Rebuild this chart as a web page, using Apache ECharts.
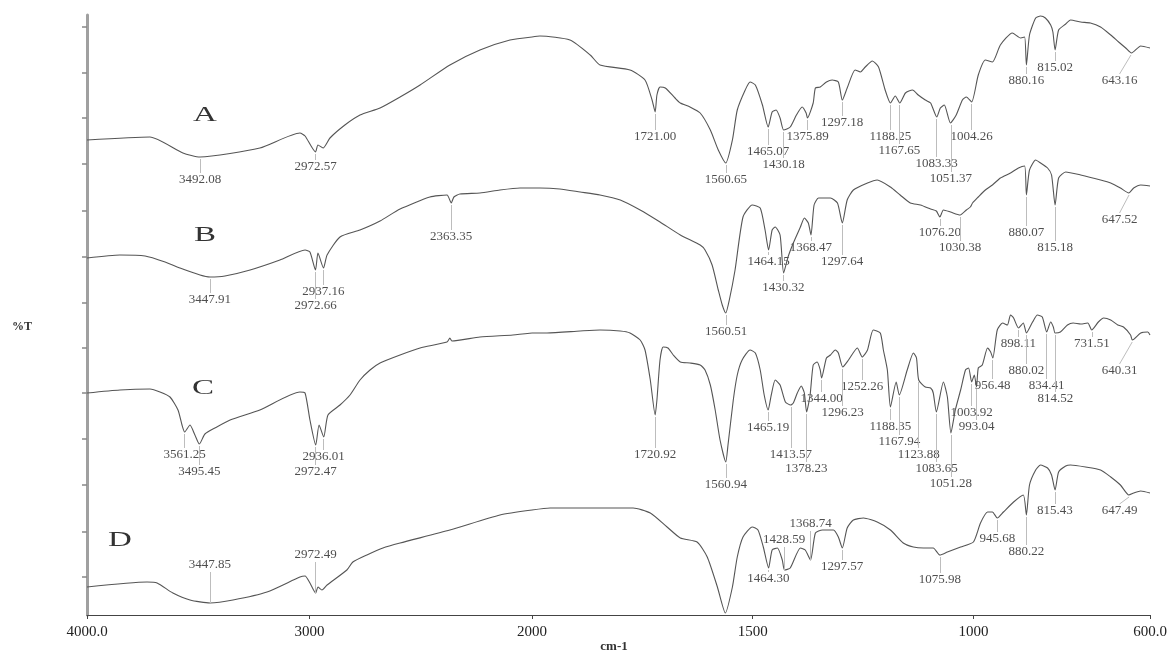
<!DOCTYPE html>
<html><head><meta charset="utf-8">
<script src="https://cdn.jsdelivr.net/npm/echarts@6/dist/echarts.min.js"></script>
<style>html,body{margin:0;padding:0;background:#fff}#chart{width:1171px;height:654px}</style>
</head><body><div id="chart"></div>
<script>
// ---- data: [wavenumber cm-1, %T (arbitrary offset units)] ----
const traceA = [[4000,475],[3717,478],[3569,462],[3492,458],[3223,467],[3043,482],[3020,479],[2973,463],[2962,470],[2939,467],[2908,477],[2841,490],[2773,500],[2683,507],[2593,518],[2503,530],[2369,550],[2234,565],[2099,575],[2000,578],[1982,579],[1914,575],[1868,560],[1846,550],[1778,545],[1744,535],[1728,515],[1721,503],[1717,520],[1710,528],[1698,527],[1676,517],[1664,512],[1642,508],[1619,502],[1596,485],[1578,465],[1561,452],[1546,475],[1535,505],[1517,525],[1506,533],[1494,530],[1478,510],[1465,488],[1456,503],[1447,505],[1438,497],[1430,485],[1415,488],[1401,500],[1388,508],[1379,502],[1376,497],[1363,512],[1358,527],[1347,528],[1333,533],[1320,535],[1306,533],[1297,515],[1286,527],[1268,545],[1256,543],[1245,548],[1229,554],[1215,548],[1200,525],[1188,512],[1177,519],[1167,512],[1154,522],[1138,525],[1125,520],[1109,515],[1097,512],[1083,498],[1075,507],[1066,510],[1052,492],[1039,500],[1025,515],[1016,518],[1004,513],[989,540],[973,555],[957,553],[939,570],[912,582],[893,577],[884,578],[880,550],[873,580],[859,597],[848,599],[837,597],[825,590],[820,583],[815,565],[807,585],[791,591],[780,595],[757,593],[735,592],[712,588],[689,580],[671,573],[655,567],[642,562],[621,569],[600,567]];
const traceB = [[4000,357],[3852,360],[3739,359],[3649,353],[3582,347],[3492,340],[3447,338],[3380,339],[3267,345],[3133,355],[3020,365],[2998,363],[2973,345],[2962,362],[2937,347],[2921,360],[2863,378],[2773,385],[2683,394],[2593,406],[2459,418],[2382,420],[2363,412],[2351,418],[2324,421],[2234,422],[2144,425],[2054,427],[2000,427],[1982,427],[1937,426],[1891,423],[1846,420],[1800,415],[1755,405],[1710,393],[1664,380],[1619,370],[1608,365],[1592,350],[1578,325],[1569,310],[1561,302],[1553,315],[1540,345],[1522,398],[1501,410],[1483,407],[1472,385],[1464,365],[1456,385],[1449,388],[1438,380],[1430,342],[1420,358],[1408,372],[1392,388],[1383,397],[1374,392],[1368,380],[1361,410],[1351,417],[1324,417],[1308,412],[1297,392],[1286,415],[1272,425],[1240,432],[1218,435],[1188,428],[1166,420],[1143,412],[1120,410],[1097,406],[1084,404],[1076,398],[1068,405],[1052,403],[1030,400],[1016,405],[1007,408],[1002,412],[989,418],[973,425],[957,430],[939,437],[916,442],[898,447],[884,449],[880,420],[873,445],[859,455],[848,452],[832,447],[823,440],[815,410],[807,437],[791,443],[757,440],[712,435],[689,432],[667,427],[648,422],[637,427],[621,430],[600,429]];
const traceC = [[4000,222],[3852,225],[3717,226],[3672,223],[3627,218],[3591,205],[3573,190],[3561,183],[3537,190],[3515,180],[3495,171],[3470,181],[3425,187],[3357,195],[3223,205],[3043,223],[3020,222],[2998,195],[2972,170],[2957,190],[2936,178],[2917,200],[2863,210],[2818,220],[2773,235],[2728,245],[2683,252],[2593,260],[2503,267],[2382,273],[2369,277],[2360,274],[2234,278],[2086,280],[2000,282],[1966,282],[1891,284],[1846,285],[1800,284],[1778,282],[1755,275],[1744,265],[1732,235],[1721,200],[1717,215],[1710,255],[1703,268],[1692,267],[1680,260],[1664,253],[1642,252],[1619,250],[1608,245],[1596,230],[1585,205],[1574,175],[1561,153],[1556,170],[1544,215],[1535,240],[1524,255],[1506,265],[1494,262],[1483,245],[1474,220],[1465,205],[1458,220],[1449,235],[1438,230],[1426,213],[1414,210],[1408,212],[1399,222],[1390,229],[1383,222],[1378,203],[1370,220],[1363,250],[1354,253],[1347,245],[1344,237],[1333,257],[1324,260],[1313,265],[1306,262],[1296,248],[1283,255],[1263,267],[1252,258],[1240,265],[1227,285],[1211,282],[1204,265],[1195,245],[1188,208],[1175,233],[1168,220],[1150,245],[1136,262],[1129,257],[1124,235],[1109,228],[1097,227],[1091,222],[1084,203],[1068,233],[1059,218],[1051,182],[1041,205],[1029,225],[1018,245],[1011,247],[1004,233],[998,240],[993,228],[989,247],[980,250],[968,267],[961,263],[956,257],[946,285],[934,292],[923,290],[916,300],[909,297],[898,287],[887,292],[880,282],[866,293],[855,300],[844,298],[834,283],[825,293],[819,288],[815,282],[803,283],[787,290],[774,292],[757,291],[741,292],[732,285],[717,293],[705,297],[689,295],[673,290],[660,288],[644,280],[640,275],[621,282],[605,283],[600,280]];
const traceD = [[4000,28],[3730,33],[3685,32],[3614,22],[3537,15],[3447,12],[3344,15],[3191,23],[3043,38],[3020,39],[2998,32],[2972,22],[2962,28],[2944,25],[2921,30],[2832,45],[2805,53],[2742,60],[2670,67],[2593,72],[2369,85],[2144,100],[2000,105],[1959,107],[1846,107],[1771,107],[1732,102],[1694,88],[1664,77],[1626,73],[1603,58],[1580,28],[1562,2],[1546,28],[1535,58],[1522,78],[1501,88],[1488,85],[1476,68],[1464,47],[1456,65],[1444,67],[1433,55],[1428,45],[1415,47],[1392,67],[1381,65],[1369,55],[1358,82],[1342,85],[1317,85],[1306,78],[1297,67],[1286,87],[1272,95],[1249,97],[1218,93],[1188,85],[1159,72],[1136,68],[1113,67],[1091,67],[1076,60],[1059,63],[1029,68],[1000,73],[984,92],[968,103],[957,103],[946,97],[932,103],[909,113],[887,120],[880,100],[873,130],[859,145],[848,150],[832,147],[823,140],[815,125],[807,143],[791,149],[780,150],[746,148],[712,145],[689,138],[667,130],[648,120],[637,122],[621,124],[600,122]];

const peaksA = ['3492.08','2972.57','1721.00','1560.65','1465.07','1430.18','1375.89','1297.18','1188.25','1167.65','1083.33','1051.37','1004.26','880.16','815.02','643.16'];
const peaksB = ['3447.91','2937.16','2972.66','2363.35','1560.51','1464.15','1430.32','1368.47','1297.64','1076.20','1030.38','880.07','815.18','647.52'];
const peaksC = ['3561.25','3495.45','2936.01','2972.47','1720.92','1560.94','1465.19','1413.57','1378.23','1344.00','1296.23','1252.26','1188.35','1167.94','1123.88','1083.65','1051.28','1003.92','993.04','956.48','898.11','880.02','834.41','814.52','731.51','640.31'];
const peaksD = ['3447.85','2972.49','1464.30','1428.59','1368.74','1297.57','1075.98','945.68','880.22','815.43','647.49'];

const traceNames = ['A','B','C','D'];
const xTicksLeft = [4000, 3000, 2000];
const xTicksRight = [1500, 1000, 600];
const xTickText = {4000:'4000.0', 3000:'3000', 2000:'2000', 1500:'1500', 1000:'1000', 600:'600.0'};
const yTicks = [38, 83, 130, 176, 222, 267, 312, 358, 404, 451, 497, 542, 588];

// ---- layout (label placement: [label height, optional label wavenumber]) ----
const layoutA = [[435],[448],[478],[435],[463],[450],[478],[492],[478],[464],[451],[436],[478],[534],[547],[534,669]];
const layoutB = [[315],[323],[309],[378],[283],[353],[327],[367],[353],[382],[367],[382],[367],[395,669]];
const layoutC = [[160],[143],[158],[143],[160],[130],[187],[160],[146],[216],[202],[228],[188],[173],[160],[146],[131],[202],[188],[229],[271],[244],[229],[216],[271],[244,669]];
const layoutD = [[50],[60],[36],[75],[91],[48],[35],[76],[63],[104],[104,669]];
const letterPos = [[205,115],[205,235],[203,388],[120,540]];

const traces = [
  {data: traceA, peaks: peaksA, layout: layoutA},
  {data: traceB, peaks: peaksB, layout: layoutB},
  {data: traceC, peaks: peaksC, layout: layoutC},
  {data: traceD, peaks: peaksD, layout: layoutD}
];

function interp(data, w) {
  for (let i = 0; i < data.length - 1; i++) {
    const a = data[i], b = data[i + 1];
    if (w <= a[0] && w >= b[0]) {
      const t = (a[0] - w) / (a[0] - b[0] || 1);
      return a[1] + t * (b[1] - a[1]);
    }
  }
  return data[data.length - 1][1];
}
function dipAt(data, w) {
  const tol = w >= 2000 ? 12 : 5;
  let m = interp(data, w);
  data.forEach(p => { if (Math.abs(p[0] - w) <= tol && p[1] < m) m = p[1]; });
  return m;
}

const series = [];
const labelData = [[], []];
const lineData = [[], []];
traces.forEach(t => {
  const segs = [t.data.filter(p => p[0] >= 2000), t.data.filter(p => p[0] <= 2000)];
  segs.forEach((d, g) => series.push({
    type: 'line', xAxisIndex: g, yAxisIndex: g, data: d, symbol: 'none', showSymbol: false,
    smooth: 0.2, silent: true, lineStyle: {color: '#555', width: 1.1}
  }));
  t.peaks.forEach((txt, i) => {
    const w = parseFloat(txt);
    const g = w >= 2000 ? 0 : 1;
    const hl = t.layout[i][0];
    const wl = t.layout[i].length > 1 ? t.layout[i][1] : w;
    const hd = dipAt(t.data, w);
    const below = hl < hd;
    const start = below ? hd - 2 : hd;
    const end = below ? hl + 7 : hl - 7;
    lineData[g].push([{coord: [w, start]}, {coord: [wl, end]}]);
    labelData[g].push({name: txt, value: [wl, hl]});
  });
});
[0, 1].forEach(g => series.push({
  type: 'scatter', xAxisIndex: g, yAxisIndex: g, symbolSize: 0, silent: true,
  data: labelData[g],
  label: {show: true, position: 'inside', formatter: '{b}', fontFamily: 'Liberation Serif', fontSize: 13, color: '#222'},
  markLine: {silent: true, symbol: ['none', 'none'], label: {show: false},
    lineStyle: {color: '#bdbdbd', width: 1, type: 'solid'}, data: lineData[g], animation: false}
}));

const xAxisCommon = {
  type: 'value', inverse: true, splitLine: {show: false},
  axisLine: {show: true, lineStyle: {color: '#444', width: 1}},
  axisLabel: {fontFamily: 'Liberation Serif', fontSize: 15, color: '#222', margin: 10},
  axisTick: {show: true, length: 4, inside: false, lineStyle: {color: '#444'}}
};

const graphics = traceNames.map((n, i) => ({
  type: 'text', x: letterPos[i][0], y: letterPos[i][1], scaleX: 1.5,
  style: {text: n, font: '22px "Liberation Serif"', fill: '#333', align: 'center', verticalAlign: 'middle', textAlign: 'center', textVerticalAlign: 'middle'}
}));
graphics.push({type: 'text', x: 22, y: 327, style: {text: '%T', font: 'bold 12px "Liberation Serif"', fill: '#333', align: 'center', verticalAlign: 'middle', textAlign: 'center', textVerticalAlign: 'middle'}});
graphics.push({type: 'text', x: 614, y: 647, style: {text: 'cm-1', font: 'bold 13px "Liberation Serif"', fill: '#333', align: 'center', verticalAlign: 'middle', textAlign: 'center', textVerticalAlign: 'middle'}});

const chart = echarts.init(document.getElementById('chart'), null, {renderer: 'canvas'});
chart.setOption({
  animation: false,
  backgroundColor: '#fff',
  grid: [
    {left: 87, top: 15, width: 445, height: 600},
    {left: 532, top: 15, width: 618, height: 600}
  ],
  xAxis: [
    Object.assign({}, xAxisCommon, {gridIndex: 0, min: 2000, max: 4000,
      axisLabel: Object.assign({}, xAxisCommon.axisLabel, {customValues: xTicksLeft, formatter: v => xTickText[v] || ''}),
      axisTick: Object.assign({}, xAxisCommon.axisTick, {customValues: xTicksLeft})}),
    Object.assign({}, xAxisCommon, {gridIndex: 1, min: 600, max: 2000,
      axisLabel: Object.assign({}, xAxisCommon.axisLabel, {customValues: xTicksRight, formatter: v => xTickText[v] || ''}),
      axisTick: Object.assign({}, xAxisCommon.axisTick, {customValues: xTicksRight})})
  ],
  yAxis: [
    {gridIndex: 0, type: 'value', min: 0, max: 600, splitLine: {show: false},
      axisLine: {show: true, lineStyle: {color: '#a0a0a0', width: 3}},
      axisTick: {show: true, customValues: yTicks, length: 5, inside: false, lineStyle: {color: '#888', width: 1.5}},
      axisLabel: {show: false}},
    {gridIndex: 1, type: 'value', min: 0, max: 600, show: false}
  ],
  graphic: graphics,
  series: series
});
</script>
</body></html>
